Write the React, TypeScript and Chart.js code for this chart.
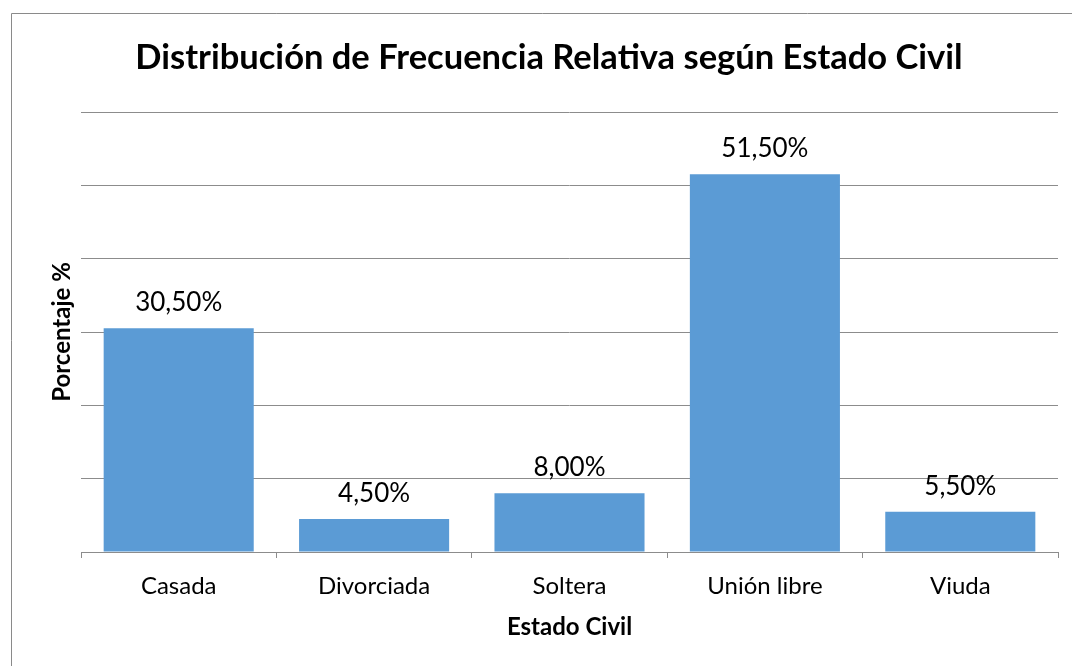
import React, { useEffect, useRef } from "react";
import { Chart, registerables } from "chart.js";

Chart.register(...registerables);

const categories = ["Casada", "Divorciada", "Soltera", "Unión libre", "Viuda"];
const values = [30.5, 4.5, 8.0, 51.5, 5.5];
const valueLabels = ["30,50%", "4,50%", "8,00%", "51,50%", "5,50%"];
const chartTitle = "Distribución de Frecuencia Relativa según Estado Civil";
const xTitle = "Estado Civil";
const yTitle = "Porcentaje %";

const FONT = "Lato, 'Open Sans', sans-serif";
const GRID = "#8c8c8c";

const overlayPlugin = {
  id: "overlay",
  afterDraw(chart: any) {
    const ctx = chart.ctx as CanvasRenderingContext2D;
    const area = chart.chartArea;
    ctx.save();
    // frame
    ctx.strokeStyle = "#8a8a8a";
    ctx.lineWidth = 1;
    ctx.beginPath();
    ctx.moveTo(11.5, 700);
    ctx.lineTo(11.5, 13.5);
    ctx.lineTo(1100, 13.5);
    ctx.stroke();
    // title
    ctx.fillStyle = "#000";
    ctx.textAlign = "center";
    ctx.textBaseline = "alphabetic";
    ctx.font = `bold 34.5px ${FONT}`;
    ctx.fillText(chartTitle, 549, 69);
    // x title
    ctx.font = `bold 24px ${FONT}`;
    ctx.fillText(xTitle, (area.left + area.right) / 2, 635);
    // y title
    ctx.save();
    ctx.translate(70, (area.top + area.bottom) / 2);
    ctx.rotate(-Math.PI / 2);
    ctx.fillText(yTitle, 0, 0);
    ctx.restore();
    // data labels
    ctx.font = `26px ${FONT}`;
    const meta = chart.getDatasetMeta(0);
    meta.data.forEach((bar: any, i: number) => {
      ctx.fillText(valueLabels[i], bar.x, bar.y - 17);
    });
    ctx.restore();
  },
};

export default function App() {
  const ref = useRef<HTMLCanvasElement | null>(null);
  useEffect(() => {
    if (!ref.current) return;
    const chart = new Chart(ref.current, {
      type: "bar",
      data: {
        labels: categories,
        datasets: [
          {
            data: values,
            backgroundColor: "#5B9BD5",
            categoryPercentage: 1,
            barPercentage: 0.768,
          },
        ],
      },
      options: {
        animation: false,
        responsive: true,
        maintainAspectRatio: false,
        layout: { padding: { left: 81, right: 14, top: 112, bottom: 0 } },
        plugins: {
          legend: { display: false },
          title: { display: false },
          tooltip: { enabled: false },
        },
        scales: {
          x: {
            grid: {
              display: true,
              drawOnChartArea: false,
              offset: true,
              tickLength: 6,
              color: GRID,
            },
            border: { display: true, color: GRID },
            ticks: {
              color: "#000",
              font: { family: FONT, size: 24 },
              padding: 14,
            },
            afterFit: (scale: any) => {
              scale.height = 114;
            },
          },
          y: {
            min: 0,
            max: 60,
            ticks: { display: false, stepSize: 10 },
            grid: { color: GRID, drawTicks: false },
            border: { display: false },
            afterFit: (scale: any) => {
              scale.width = 0;
            },
          },
        },
      },
      plugins: [overlayPlugin],
    });
    return () => chart.destroy();
  }, []);
  return (
    <div style={{ position: "fixed", left: 0, top: 0, width: 1072, height: 666, background: "#fff" }}>
      <canvas ref={ref} />
    </div>
  );
}
